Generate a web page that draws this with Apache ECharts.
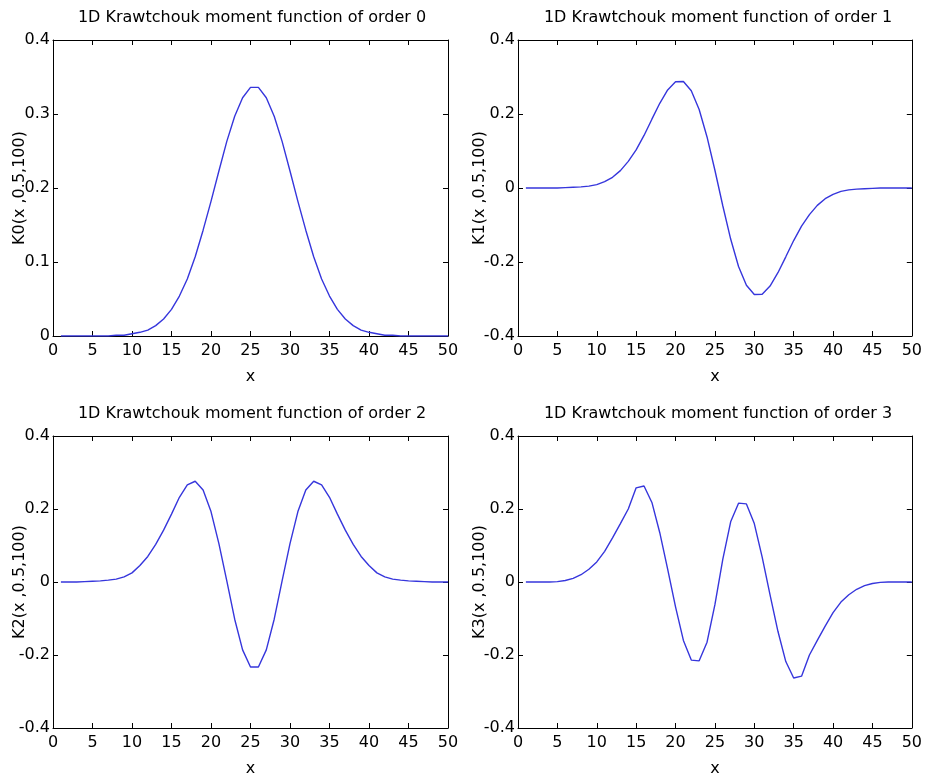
<!DOCTYPE html>
<html>
<head>
<meta charset="utf-8">
<script src="https://cdn.jsdelivr.net/npm/echarts@6/dist/echarts.min.js"></script>
<style>
  html, body { margin: 0; padding: 0; background: #fff; }
  #main { width: 925px; height: 778px; }
</style>
</head>
<body>
<div id="main"></div>
<script>
// x positions (sample index)
let xs = [1, 2, 3, 4, 5, 6, 7, 8, 9, 10, 11, 12, 13, 14, 15, 16, 17, 18, 19, 20,
    21, 22, 23, 24, 25, 26, 27, 28, 29, 30, 31, 32, 33, 34, 35, 36, 37, 38, 39, 40,
    41, 42, 43, 44, 45, 46, 47, 48, 49, 50];

// values
let k0 = [0, 0, 0, 0, 0, 0, 0, 0.001, 0.001, 0.003, 0.005, 0.008, 0.014, 0.023, 0.036,
    0.054, 0.077, 0.107, 0.143, 0.182, 0.223, 0.263, 0.297, 0.322, 0.336,
    0.336, 0.322, 0.297, 0.263, 0.223, 0.182, 0.143, 0.107, 0.077, 0.054,
    0.036, 0.023, 0.014, 0.008, 0.005, 0.003, 0.001, 0.001, 0, 0, 0, 0, 0, 0, 0];

let k1 = [0, 0, 0, 0, 0, 0.001, 0.002, 0.003, 0.005, 0.009, 0.017, 0.029, 0.047, 0.072, 0.103,
    0.142, 0.186, 0.229, 0.265, 0.287, 0.288, 0.263, 0.212, 0.138, 0.048,
    -0.048, -0.138, -0.212, -0.263, -0.288, -0.287, -0.265, -0.229, -0.186, -0.142,
    -0.103, -0.072, -0.047, -0.029, -0.017, -0.009, -0.005, -0.003, -0.002, -0.001, 0, 0, 0, 0, 0];

let k2 = [0, 0, 0, 0.001, 0.002, 0.003, 0.005, 0.008, 0.014, 0.025, 0.045, 0.070, 0.103, 0.142, 0.186,
    0.232, 0.266, 0.276, 0.252, 0.193, 0.105, 0.003, -0.102, -0.186, -0.233,
    -0.233, -0.186, -0.102, 0.003, 0.105, 0.193, 0.252, 0.276, 0.266, 0.232,
    0.186, 0.142, 0.103, 0.070, 0.045, 0.025, 0.014, 0.008, 0.005, 0.003, 0.002, 0.001, 0, 0, 0];

let k3 = [0, 0, 0, 0, 0.001, 0.004, 0.010, 0.020, 0.035, 0.055, 0.084, 0.121, 0.160, 0.200, 0.258,
    0.263, 0.218, 0.135, 0.035, -0.068, -0.160, -0.214, -0.216, -0.165, -0.062,
    0.062, 0.165, 0.216, 0.214, 0.160, 0.068, -0.035, -0.135, -0.218, -0.263,
    -0.258, -0.200, -0.160, -0.121, -0.084, -0.055, -0.035, -0.020, -0.010, -0.004, -0.001, 0, 0, 0, 0];

let titles = ['1D Krawtchouk moment function of order 0', '1D Krawtchouk moment function of order 1',
    '1D Krawtchouk moment function of order 2', '1D Krawtchouk moment function of order 3'];
let yNames = ['K0(x ,0.5,100)', 'K1(x ,0.5,100)', 'K2(x ,0.5,100)', 'K3(x ,0.5,100)'];
let yMin = [0, -0.4, -0.4, -0.4];
let yMax = [0.4, 0.4, 0.4, 0.4];
let yStep = [0.1, 0.2, 0.2, 0.2];
let xMin = 0, xMax = 50, xStep = 5;

const FONT = 'DejaVu Sans';
const allValues = [k0, k1, k2, k3];

// panel boxes
const grids = [
    { left: 53, top: 40, width: 395, height: 296 },
    { left: 518, top: 40, width: 394, height: 296 },
    { left: 53, top: 436, width: 395, height: 297 },
    { left: 518, top: 436, width: 394, height: 297 }
];
const titlePos = [{ x: 247, y: 5 }, { x: 713, y: 5 }, { x: 247, y: 401 }, { x: 713, y: 401 }];
const yNameGap = [25, 30, 25, 30];

let myChart = echarts.init(document.getElementById('main'));

let xAxes = [], yAxes = [], series = [], titleList = [];
let lineCol = '#000';

// bottom x and left y axes, with labels
for (let i = 0; i < 4; i++) {
    xAxes.push({
        gridIndex: i, type: 'value', position: 'bottom',
        min: xMin, max: xMax, interval: xStep,
        name: 'x', nameLocation: 'middle', nameGap: 33, nameMoveOverlap: false,
        nameTextStyle: { color: '#000', fontSize: 16, fontFamily: FONT },
        axisLine: { show: true, onZero: false, lineStyle: { color: lineCol, width: 1 } },
        axisTick: { show: true, inside: true, length: 5, lineStyle: { color: lineCol } },
        axisLabel: { color: '#000', fontSize: 16, fontFamily: FONT, margin: 7 },
        splitLine: { show: false }
    });
    yAxes.push({
        gridIndex: i, type: 'value', position: 'left',
        min: yMin[i], max: yMax[i], interval: yStep[i],
        name: yNames[i], nameLocation: 'middle', nameRotate: 90, nameGap: yNameGap[i],
        nameMoveOverlap: false,
        nameTextStyle: { color: '#000', fontSize: 16, fontFamily: FONT },
        axisLine: { show: true, onZero: false, lineStyle: { color: lineCol, width: 1 } },
        axisTick: { show: true, inside: true, length: 5, lineStyle: { color: lineCol } },
        axisLabel: { color: '#000', fontSize: 16, fontFamily: FONT, margin: 3 },
        splitLine: { show: false }
    });
}
// top x and right y axes: only the box edge and its ticks
for (let i = 0; i < 4; i++) {
    xAxes.push({
        gridIndex: i, type: 'value', position: 'top',
        min: xMin, max: xMax, interval: xStep,
        axisLine: { show: true, onZero: false, lineStyle: { color: lineCol, width: 1 } },
        axisTick: { show: true, inside: true, length: 5, lineStyle: { color: lineCol } },
        axisLabel: { show: false },
        splitLine: { show: false }
    });
    yAxes.push({
        gridIndex: i, type: 'value', position: 'right',
        min: yMin[i], max: yMax[i], interval: yStep[i],
        axisLine: { show: true, onZero: false, lineStyle: { color: lineCol, width: 1 } },
        axisTick: { show: true, inside: true, length: 5, lineStyle: { color: lineCol } },
        axisLabel: { show: false },
        splitLine: { show: false }
    });
}

for (let i = 0; i < 4; i++) {
    let pts = xs.map((x, j) => [x, allValues[i][j]]);
    series.push({
        name: yNames[i], type: 'line',
        xAxisIndex: i, yAxisIndex: i,
        data: pts,
        showSymbol: false, symbol: 'none', smooth: false,
        lineStyle: { color: '#3636dc', width: 1.4 },
        z: 5
    });
    titleList.push({
        text: titles[i],
        left: titlePos[i].x, top: titlePos[i].y, textAlign: 'center',
        textStyle: { color: '#000', fontSize: 16, fontWeight: 'normal', fontFamily: FONT }
    });
}

let option = {
    animation: false,
    backgroundColor: '#fff',
    textStyle: { fontFamily: FONT },
    title: titleList,
    grid: grids,
    xAxis: xAxes,
    yAxis: yAxes,
    series: series
};
myChart.setOption(option);
</script>
</body>
</html>
